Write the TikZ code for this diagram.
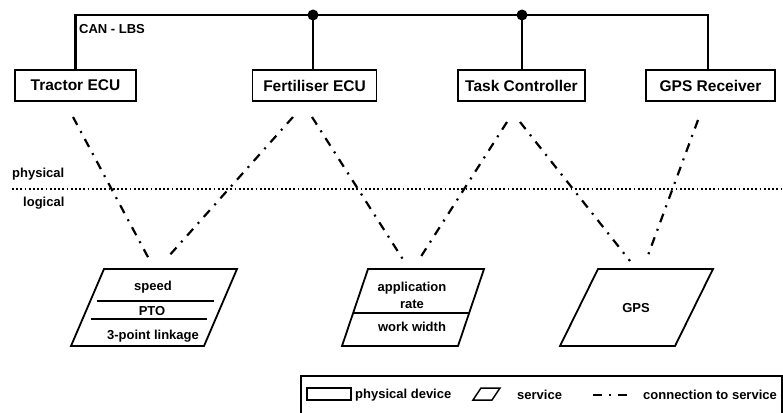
\documentclass[tikz,border=0pt]{standalone}
\usepackage{fontspec}
\setmainfont{Liberation Sans}
\begin{document}
\begin{tikzpicture}[x=1pt,y=-1pt,
  every node/.style={font=\bfseries\fontsize{13}{14}\selectfont, inner sep=0pt},
  dev/.style={draw, line width=1.8pt, minimum height=31, font=\bfseries\fontsize{15.5}{17}\selectfont},
  bus/.style={line width=2.6pt},
  conn/.style={line width=2.2pt, dash pattern=on 9pt off 7pt on 2pt off 7pt},
  svc/.style={line width=1.8pt, line join=miter},
  divider/.style={line width=1.8pt},
  dotline/.style={line width=2pt, dash pattern=on 1.8pt off 2.4pt},
  lbl/.style={anchor=west}
]
\useasboundingbox (0,0) rectangle (783,412);
\clip (0,0) rectangle (783,412);

% physical devices
\node[dev, minimum width=121] (tractor) at (75.5,85.5) {Tractor ECU};
\node[dev, minimum width=124] (fert) at (314.5,85.5) {Fertiliser ECU};
\node[dev, minimum width=127] (tc) at (521.5,85.5) {Task Controller};
\node[dev, minimum width=129] (gps) at (710.5,85.5) {GPS Receiver};

% CAN bus
\coordinate (busy) at (0,15);
\draw[bus] (tractor.north) -- (tractor.north |- busy) -| ([xshift=-2.5]gps.north);
\draw[bus] ([xshift=-1.5]fert.north) -- ([xshift=-1.5]fert.north |- busy) coordinate (j1);
\draw[bus] ([xshift=0.5]tc.north) -- ([xshift=0.5]tc.north |- busy) coordinate (j2);
\fill (j1) circle (5.5);
\fill (j2) circle (5.5);
\node[lbl] (can) at (79,29) {CAN - LBS};

% physical / logical separator
\coordinate (sepL) at (12,189);
\coordinate (sepR) at (783,189);
\draw[dotline] (sepL) -- (sepR);
\node[lbl] (phys) at (12,174) {physical};
\node[lbl] (logi) at (23,203) {logical};

% services
\coordinate (s1a) at (104,269); \coordinate (s1b) at (237,269);
\coordinate (s1c) at (204,346); \coordinate (s1d) at (71,346);
\draw[svc] (s1a) -- (s1b) -- (s1c) -- (s1d) -- cycle;
\coordinate (d1a) at (97,301); \coordinate (d1b) at (214,301);
\coordinate (d2a) at (91,319); \coordinate (d2b) at (207,319);
\draw[divider] (d1a) -- (d1b);
\draw[divider] (d2a) -- (d2b);
\node (speed) at (153,287) {speed};
\node (pto) at (152,311) {PTO};
\node (link) at (153,336) {3-point linkage};

\coordinate (s2a) at (368,269); \coordinate (s2b) at (484,269);
\coordinate (s2c) at (458,346); \coordinate (s2d) at (342,346);
\draw[svc] (s2a) -- (s2b) -- (s2c) -- (s2d) -- cycle;
\coordinate (d3a) at (353,313); \coordinate (d3b) at (469,313);
\draw[divider] (d3a) -- (d3b);
\node (appl) at (412,288) {application};
\node (rate) at (412,304) {rate};
\node (width) at (412,327) {work width};

\coordinate (s3a) at (598,269); \coordinate (s3b) at (713,269);
\coordinate (s3c) at (675,346); \coordinate (s3d) at (560,346);
\draw[svc] (s3a) -- (s3b) -- (s3c) -- (s3d) -- cycle;
\node (gpss) at (636,308) {GPS};

% connections to services
\coordinate (a1) at (73,117);  \coordinate (a2) at (149,259);
\coordinate (b1) at (293,117); \coordinate (b2) at (168,257);
\coordinate (c1) at (312,117); \coordinate (c2) at (404,261);
\coordinate (e1) at (507,122); \coordinate (e2) at (420,258);
\coordinate (f1) at (520,122); \coordinate (f2) at (630,261);
\coordinate (g1) at (698,120); \coordinate (g2) at (647,258);
\draw[conn] (a1) -- (a2);
\draw[conn] (b1) -- (b2);
\draw[conn] (c1) -- (c2);
\draw[conn] (e1) -- (e2);
\draw[conn] (f1) -- (f2);
\draw[conn] (g1) -- (g2);

% legend
\draw[line width=1.5pt] (301,425) -- (301,376) -- (782,376) -- (782,425);
\draw[line width=1.5pt] (307,388) rectangle (351,400);
\node[lbl] (lg1) at (355,395) {physical device};
\draw[line width=1.5pt] (481,388) -- (500,388) -- (492,400) -- (473,400) -- cycle;
\node[lbl] (lg2) at (517,395) {service};
\coordinate (lgc1) at (593,395); \coordinate (lgc2) at (628,395);
\draw[conn] (lgc1) -- (lgc2);
\node[lbl] (lg3) at (643,395) {connection to service};
\end{tikzpicture}
\end{document}
